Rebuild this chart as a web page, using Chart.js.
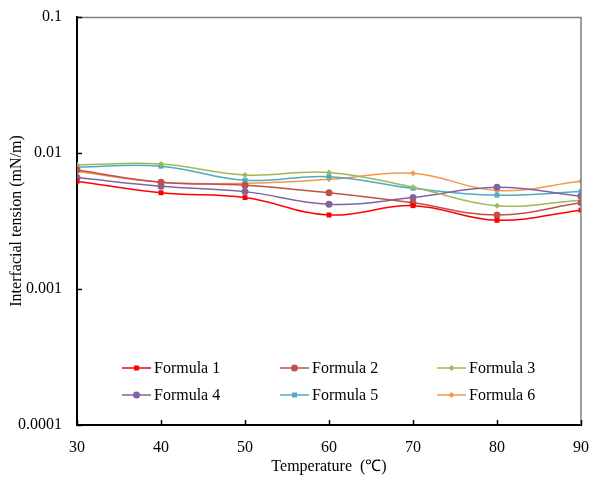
<!DOCTYPE html>
<html>
<head>
<meta charset="utf-8">
<script src="https://cdn.jsdelivr.net/npm/chart.js@4/dist/chart.umd.min.js"></script>
<style>
  html, body { margin: 0; padding: 0; background: #fff; }
</style>
</head>
<body>
<canvas id="chart" width="590" height="477"></canvas>
<script>
const temps = [30, 40, 50, 60, 70, 80, 90];
const formula1 = [0.0062, 0.0051, 0.0047, 0.0035, 0.0041, 0.0032, 0.0038];
const formula2 = [0.0075, 0.0061, 0.0058, 0.0051, 0.0043, 0.0035, 0.0043];
const formula3 = [0.0082, 0.0083, 0.0069, 0.0072, 0.0056, 0.0041, 0.0045];
const formula4 = [0.0066, 0.0057, 0.0052, 0.0042, 0.0047, 0.0056, 0.0048];
const formula5 = [0.0079, 0.0080, 0.0063, 0.0067, 0.0055, 0.0049, 0.0052];
const formula6 = [0.0073, 0.0061, 0.0060, 0.0064, 0.0071, 0.0053, 0.0062];
const yTicks = [0.1, 0.01, 0.001, 0.0001];
const xTicks = [30, 40, 50, 60, 70, 80, 90];

const FONT = "'Liberation Serif', 'Times New Roman', serif";

const series = [
  { label: 'Formula 1', data: formula1, color: '#FF0000', style: 'rect', r: 3.5 },
  { label: 'Formula 2', data: formula2, color: '#C0504D', style: 'circle', r: 3.5 },
  { label: 'Formula 3', data: formula3, color: '#9BBB59', style: 'rectRot', r: 3 },
  { label: 'Formula 4', data: formula4, color: '#8064A2', style: 'circle', r: 3.5 },
  { label: 'Formula 5', data: formula5, color: '#4BACC6', style: 'rect', r: 3.5 },
  { label: 'Formula 6', data: formula6, color: '#F79646', style: 'rectRot', r: 3 }
];

// frame, inward ticks and the 2x3 legend
const framePlugin = {
  id: 'frame',
  afterDraw(chart) {
    const { ctx, chartArea: a, scales } = chart;
    ctx.save();
    ctx.strokeStyle = '#808080';
    ctx.lineWidth = 1.5;
    ctx.beginPath();
    ctx.moveTo(a.left, a.top + 0.5);
    ctx.lineTo(a.right, a.top + 0.5);
    ctx.lineTo(a.right, a.bottom);
    ctx.stroke();

    ctx.strokeStyle = '#000';
    ctx.lineWidth = 1.5;
    ctx.beginPath();
    yTicks.forEach(v => {
      const y = Math.round(scales.y.getPixelForValue(v)) + 0.5;
      ctx.moveTo(a.left, y);
      ctx.lineTo(a.left + 5, y);
    });
    xTicks.forEach(v => {
      const x = Math.round(scales.x.getPixelForValue(v)) + 0.5;
      ctx.moveTo(x, a.bottom);
      ctx.lineTo(x, a.bottom - 5);
    });
    ctx.stroke();

    // legend
    const cols = [a.left + 45, a.left + 203, a.left + 360];
    const rows = [a.top + 351, a.top + 378];
    ctx.font = '16px ' + FONT;
    ctx.textBaseline = 'middle';
    ctx.textAlign = 'left';
    chart.data.datasets.forEach((ds, i) => {
      const x = cols[i % 3];
      const y = rows[Math.floor(i / 3)];
      ctx.strokeStyle = ds.borderColor;
      ctx.lineWidth = 1.5;
      ctx.beginPath();
      ctx.moveTo(x, y);
      ctx.lineTo(x + 29, y);
      ctx.stroke();
      ctx.fillStyle = ds.pointBackgroundColor;
      Chart.helpers.drawPoint(ctx, {
        pointStyle: ds.pointStyle,
        radius: ds.pointRadius,
        rotation: 0,
        borderWidth: 0
      }, x + 14.5, y);
      ctx.fillStyle = '#000';
      ctx.fillText(ds.label, x + 32, y + 1);
    });
    ctx.restore();
  }
};

new Chart(document.getElementById('chart').getContext('2d'), {
  type: 'line',
  data: {
    datasets: series.map(s => ({
      label: s.label,
      data: temps.map((t, i) => ({ x: t, y: s.data[i] })),
      borderColor: s.color,
      backgroundColor: s.color,
      pointBackgroundColor: s.color,
      pointBorderColor: s.color,
      pointBorderWidth: 0,
      pointStyle: s.style,
      pointRadius: s.r,
      borderWidth: 1.5,
      tension: 0.4,
      fill: false
    }))
  },
  options: {
    responsive: false,
    animation: false,
    devicePixelRatio: 1,
    layout: { padding: { top: 17, right: 9, left: 0, bottom: 0 } },
    plugins: {
      legend: { display: false },
      tooltip: { enabled: false }
    },
    scales: {
      x: {
        type: 'linear',
        min: 30,
        max: 90,
        afterBuildTicks: scale => { scale.ticks = xTicks.map(v => ({ value: v })); },
        afterFit: scale => {
          scale.height = 52;
          scale.paddingLeft = 0;
          scale.paddingRight = 0;
        },
        grid: { display: false, drawTicks: false },
        border: { color: '#000', width: 2 },
        ticks: { color: '#000', padding: 13, font: { family: FONT, size: 16 } },
        title: {
          display: true,
          text: 'Temperature  (\u2103)',
          color: '#000',
          font: { family: FONT, size: 16 },
          padding: { top: 0, bottom: 1 }
        }
      },
      y: {
        type: 'logarithmic',
        min: 0.0001,
        max: 0.1,
        afterBuildTicks: scale => { scale.ticks = yTicks.map(v => ({ value: v })); },
        afterFit: scale => {
          scale.width = 77;
          scale.paddingTop = 0;
          scale.paddingBottom = 0;
        },
        grid: { display: false, drawTicks: false },
        border: { color: '#000', width: 2 },
        ticks: {
          color: '#000',
          padding: 15,
          font: { family: FONT, size: 16 },
          callback: v => String(v)
        },
        title: {
          display: true,
          text: 'Interfacial tension (mN/m)',
          color: '#000',
          font: { family: FONT, size: 16 },
          padding: { top: 7, bottom: 0 }
        }
      }
    }
  },
  plugins: [framePlugin]
});
</script>
</body>
</html>
